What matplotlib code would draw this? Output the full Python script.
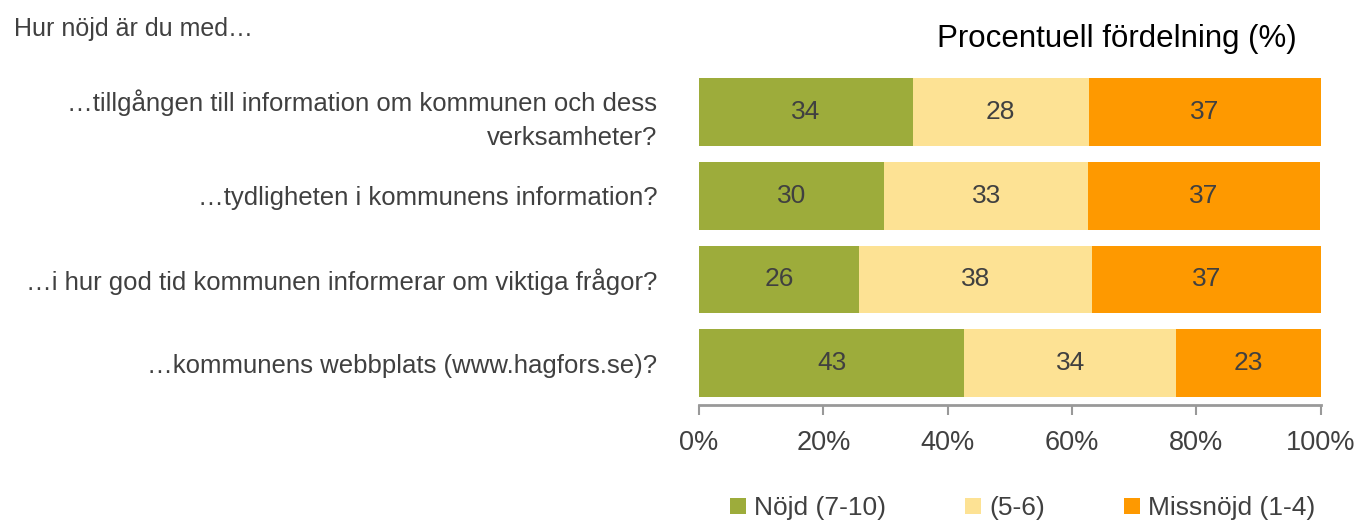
import matplotlib.pyplot as plt
import numpy as np

plt.rcParams['font.family'] = ['Liberation Sans', 'DejaVu Sans']

# Questions, top to bottom
questions = [
    '…tillgången till information om kommunen och dess\nverksamheter?',
    '…tydligheten i kommunens information?',
    '…i hur god tid kommunen informerar om viktiga frågor?',
    '…kommunens webbplats (www.hagfors.se)?',
]

# Share of answers per group (%)
nojd = [34.4, 29.8, 25.7, 42.7]
mellan = [28.3, 32.8, 37.6, 34.1]
missnojd = [37.3, 37.3, 36.7, 23.2]

series_names = ['Nöjd (7-10)', '(5-6)', 'Missnöjd (1-4)']
colors = ['#9dac3b', '#fde294', '#fe9900']
text_color = '#404040'

fig = plt.figure(figsize=(13.6, 5.24), dpi=100)
ax = fig.add_axes([0.514, 0.227, 0.457, 0.639])

y = np.arange(len(questions))
left = np.zeros(len(questions))
for vals, name, col in zip([nojd, mellan, missnojd], series_names, colors):
    bars = ax.barh(y, vals, left=left, height=0.81, color=col, label=name)
    ax.bar_label(bars, labels=['%.0f' % v for v in vals], label_type='center',
                 fontsize=19, color=text_color)
    left += np.array(vals)

ax.set_xlim(0, 100)
ax.set_ylim(3.5, -0.5)
ax.set_yticks(y)
ax.set_yticklabels(questions, fontsize=18.5, color=text_color, linespacing=1.55)
ax.tick_params(axis='y', length=0, pad=30)
ax.set_xticks(np.arange(0, 101, 20))
ax.set_xticklabels(['%d%%' % t for t in range(0, 101, 20)], fontsize=19.5, color=text_color)
ax.tick_params(axis='x', direction='out', length=7, width=1.5, color='#999999', pad=11)

for s in ['top', 'right', 'left']:
    ax.spines[s].set_visible(False)
ax.spines['bottom'].set_color('#999999')
ax.spines['bottom'].set_linewidth(2)

fig.text(0.8215, 0.925, 'Procentuell fördelning (%)', ha='center', va='center',
         fontsize=22.5, color='black')
fig.text(0.010, 0.945, 'Hur nöjd är du med…', ha='left', va='center',
         fontsize=18, color=text_color)

leg = fig.legend(loc='center', bbox_to_anchor=(0.752, 0.03), ncol=3, frameon=False,
                 fontsize=19, handlelength=0.6, handleheight=0.6, handletextpad=0.3,
                 columnspacing=3.0, labelcolor=text_color)

fig.savefig('out.png', dpi=100)
